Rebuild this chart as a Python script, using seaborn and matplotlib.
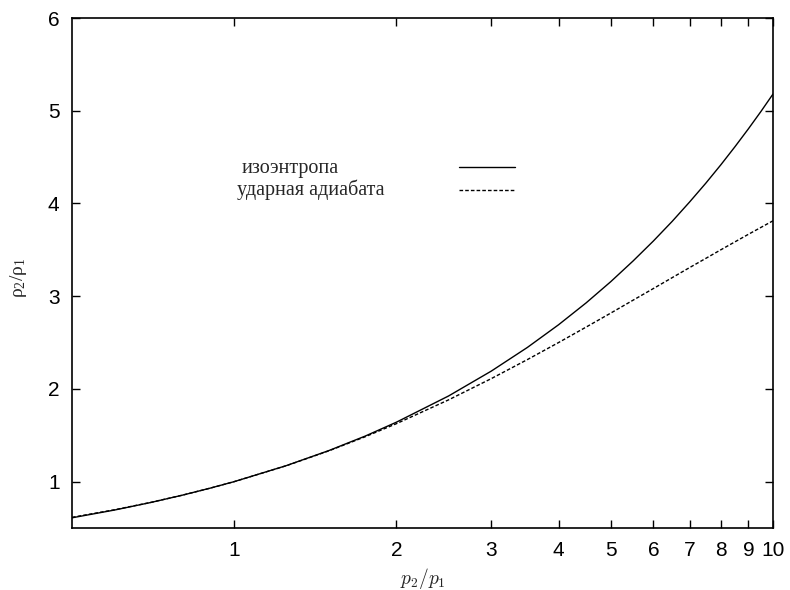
import numpy as np
import pandas as pd
import matplotlib
matplotlib.use("Agg")
import matplotlib.pyplot as plt
import seaborn as sns
from matplotlib.ticker import FixedLocator, NullLocator, FixedFormatter
from matplotlib.lines import Line2D

# data
pressure_ratio = [0.5, 0.6, 0.7, 0.8, 0.9, 1.0, 1.25, 1.5, 1.75, 2.0, 2.5, 3.0,
                  3.5, 4.0, 4.5, 5.0, 5.5, 6.0, 6.5, 7.0, 7.5, 8.0, 8.5, 9.0, 9.5, 10.0]
isentrope = [0.610, 0.694, 0.775, 0.853, 0.928, 1.000, 1.173, 1.336, 1.491, 1.641,
             1.924, 2.192, 2.447, 2.692, 2.928, 3.157, 3.380, 3.596, 3.807, 4.015,
             4.217, 4.416, 4.612, 4.804, 4.993, 5.180]
hugoniot = [0.615, 0.697, 0.776, 0.853, 0.928, 1.000, 1.172, 1.333, 1.484, 1.625,
            1.882, 2.111, 2.316, 2.500, 2.667, 2.818, 2.957, 3.083, 3.200, 3.308,
            3.407, 3.500, 3.586, 3.667, 3.742, 3.813]
series_names = ["изоэнтропа", "ударная адиабата"]
x_ticks = [1, 2, 3, 4, 5, 6, 7, 8, 9, 10]
y_ticks = [1, 2, 3, 4, 5, 6]

df = pd.DataFrame({
    "x": pressure_ratio * 2,
    "y": isentrope + hugoniot,
    "curve": [series_names[0]] * len(pressure_ratio) + [series_names[1]] * len(pressure_ratio),
})

sns.set_style("ticks")
plt.rcParams["font.family"] = ["Liberation Sans", "DejaVu Sans"]
plt.rcParams["mathtext.fontset"] = "cm"

DASH = (2.6, 1.5)

fig = plt.figure(figsize=(7.9, 5.9), dpi=100)
ax = fig.add_axes([72 / 790, 1 - 528 / 590, (773 - 72) / 790, (528 - 18) / 590])

sns.lineplot(data=df, x="x", y="y", hue="curve", style="curve",
             palette=["black", "black"], dashes={series_names[0]: "", series_names[1]: DASH},
             linewidth=1.0, ax=ax, legend=False, sort=False)

ax.set_xscale("log")
ax.set_xlim(0.5, 10)
ax.set_ylim(0.5, 6)
ax.xaxis.set_major_locator(FixedLocator(x_ticks))
ax.xaxis.set_major_formatter(FixedFormatter([str(t) for t in x_ticks]))
ax.xaxis.set_minor_locator(NullLocator())
ax.yaxis.set_major_locator(FixedLocator(y_ticks))
ax.tick_params(axis="both", which="major", direction="in", length=6, width=1,
               top=True, right=True, labelsize=15, pad=9, color="black", labelcolor="black")
for s in ax.spines.values():
    s.set_linewidth(1.2)
    s.set_color("black")

ax.set_xlabel(r"$p_2/p_1$", fontsize=14, labelpad=5)
ax.set_ylabel(r"$\mathregular{ρ_2/ρ_1}$", fontsize=14, labelpad=14,
              family=["Liberation Serif", "DejaVu Serif"])
ax.yaxis.set_label_coords(-0.062, 0.49)

# legend keys (texts drawn separately to mimic the original placement)
handles = [Line2D([], [], color="black", lw=1.0),
           Line2D([], [], color="black", lw=1.0, dashes=DASH)]
leg = ax.legend(handles, series_names, loc="upper right",
                bbox_to_anchor=((515 - 72) / 701, (528 - 159) / 510),
                frameon=False, markerfirst=False, handlelength=2.5, handletextpad=0.5,
                labelspacing=0.12, borderpad=0, borderaxespad=0,
                prop={"family": "Liberation Serif", "size": 16})
for t in leg.get_texts():
    t.set_alpha(0)

ax.text((242 - 72) / 701, (528 - 168) / 510, series_names[0], transform=ax.transAxes,
        ha="left", va="center", family="Liberation Serif", fontsize=14.5)
ax.text((237 - 72) / 701, (528 - 190) / 510, series_names[1], transform=ax.transAxes,
        ha="left", va="center", family="Liberation Serif", fontsize=14.5)

fig.savefig("out.png", dpi=100)
